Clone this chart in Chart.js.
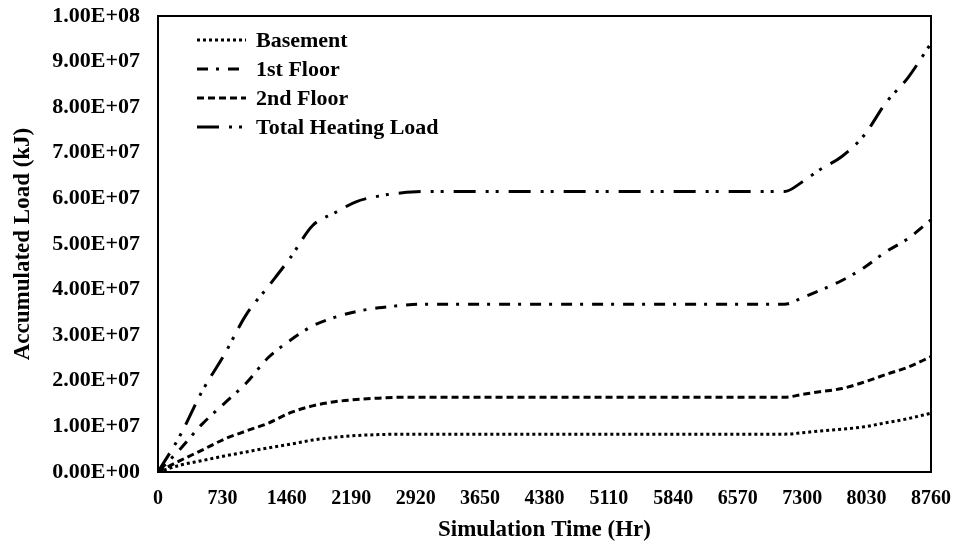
<!DOCTYPE html>
<html>
<head>
<meta charset="utf-8">
<script src="https://cdn.jsdelivr.net/npm/chart.js@4.4.1/dist/chart.umd.min.js"></script>
<style>
  body { margin: 0; background: #fff; }
</style>
</head>
<body>
<canvas id="loadChart" width="955" height="546"></canvas>
<script>
// simulation hours where values were read
var hours = [0, 250, 500, 750, 1000, 1250, 1500, 1750, 2000, 2250, 2500, 2750, 3000,
             7100, 7300, 7500, 7750, 8000, 8250, 8500, 8760];

// accumulated load in kJ
var basement = [0, 0.15e7, 0.25e7, 0.35e7, 0.44e7, 0.53e7, 0.61e7, 0.70e7, 0.76e7, 0.80e7, 0.82e7, 0.83e7, 0.83e7,
                0.83e7, 0.86e7, 0.90e7, 0.94e7, 0.99e7, 1.08e7, 1.17e7, 1.29e7];
var firstFloor = [0, 0.50e7, 1.05e7, 1.50e7, 1.95e7, 2.51e7, 2.89e7, 3.20e7, 3.39e7, 3.52e7, 3.60e7, 3.65e7, 3.68e7,
                  3.68e7, 3.82e7, 3.98e7, 4.20e7, 4.48e7, 4.83e7, 5.12e7, 5.53e7];
var secondFloor = [0, 0.25e7, 0.48e7, 0.72e7, 0.90e7, 1.07e7, 1.30e7, 1.45e7, 1.54e7, 1.59e7, 1.62e7, 1.64e7, 1.64e7,
                   1.64e7, 1.70e7, 1.76e7, 1.83e7, 1.97e7, 2.14e7, 2.30e7, 2.53e7];
var totalLoad = [0, 0.80e7, 1.77e7, 2.57e7, 3.45e7, 4.07e7, 4.70e7, 5.40e7, 5.68e7, 5.93e7, 6.05e7, 6.12e7, 6.15e7,
                 6.15e7, 6.36e7, 6.63e7, 6.92e7, 7.38e7, 8.10e7, 8.65e7, 9.40e7];

var seriesNames = ['Basement', '1st Floor', '2nd Floor', 'Total Heating Load'];
var xTicks = [0, 730, 1460, 2190, 2920, 3650, 4380, 5110, 5840, 6570, 7300, 8030, 8760];

var serif = '"Liberation Serif", "Times New Roman", serif';

function toPoints(vals) {
    return vals.map(function (v, i) { return { x: hours[i], y: v }; });
}

function sciLabel(v) {
    if (v === 0) return '0.00E+00';
    var e = Math.floor(Math.log10(Math.abs(v)) + 1e-9);
    var m = v / Math.pow(10, e);
    return m.toFixed(2) + 'E' + (e < 0 ? '-' : '+') + String(Math.abs(e)).padStart(2, '0');
}

function lineSet(label, vals, dash, width) {
    return {
        label: label,
        data: toPoints(vals),
        borderColor: '#000',
        backgroundColor: '#000',
        borderWidth: width,
        borderDash: dash,
        pointRadius: 0,
        fill: false,
        cubicInterpolationMode: 'monotone'
    };
}

// box around the plot area
var frame = {
    id: 'frame',
    afterDraw: function (chart) {
        var a = chart.chartArea, ctx = chart.ctx;
        ctx.save();
        ctx.strokeStyle = '#000';
        ctx.lineWidth = 2;
        ctx.setLineDash([]);
        ctx.strokeRect(a.left, a.top, a.right - a.left, a.bottom - a.top);
        ctx.restore();
    }
};

// legend drawn inside the plot, top left
var innerLegend = {
    id: 'innerLegend',
    afterDraw: function (chart) {
        var ctx = chart.ctx;
        ctx.save();
        ctx.font = 'bold 22px ' + serif;
        ctx.textBaseline = 'middle';
        ctx.fillStyle = '#000';
        chart.data.datasets.forEach(function (ds, i) {
            var y = 40 + i * 29;
            ctx.strokeStyle = '#000';
            ctx.lineWidth = ds.borderWidth;
            ctx.setLineDash(ds.borderDash);
            ctx.beginPath();
            ctx.moveTo(197, y);
            ctx.lineTo(246, y);
            ctx.stroke();
            ctx.fillText(ds.label, 256, y + 1);
        });
        ctx.restore();
    }
};

var ctx = document.getElementById('loadChart').getContext('2d');
var myChart = new Chart(ctx, {
    type: 'line',
    data: {
        datasets: [
            lineSet(seriesNames[0], basement, [3, 3], 3),
            lineSet(seriesNames[1], firstFloor, [11, 8, 3, 9], 3),
            lineSet(seriesNames[2], secondFloor, [7, 4], 3),
            lineSet(seriesNames[3], totalLoad, [22, 10, 3, 7, 3, 10], 3)
        ]
    },
    plugins: [frame, innerLegend],
    options: {
        responsive: false,
        animation: false,
        layout: { padding: { left: 0, right: 24, top: 16, bottom: 0 } },
        plugins: {
            legend: { display: false },
            tooltip: { enabled: false }
        },
        scales: {
            x: {
                type: 'linear',
                min: 0,
                max: 8760,
                afterFit: function (scale) {
                    scale.height = 74;
                    scale.paddingLeft = 0;
                    scale.paddingRight = 0;
                },
                afterBuildTicks: function (scale) {
                    scale.ticks = xTicks.map(function (v) { return { value: v }; });
                },
                grid: { display: false, drawTicks: false },
                border: { display: false },
                ticks: {
                    autoSkip: false,
                    maxRotation: 0,
                    padding: 15,
                    color: '#000',
                    font: { family: serif, size: 20, weight: 'bold' },
                    callback: function (v) { return String(v); }
                },
                title: {
                    display: true,
                    text: 'Simulation Time (Hr)',
                    color: '#000',
                    padding: { top: 0, bottom: 2 },
                    font: { family: serif, size: 23, weight: 'bold' }
                }
            },
            y: {
                min: 0,
                max: 1e8,
                afterFit: function (scale) {
                    scale.width = 158;
                    scale.paddingTop = 0;
                    scale.paddingBottom = 0;
                },
                grid: { display: false, drawTicks: false },
                border: { display: false },
                ticks: {
                    stepSize: 1e7,
                    padding: 18,
                    color: '#000',
                    font: { family: serif, size: 22, weight: 'bold' },
                    callback: function (v) { return sciLabel(v); }
                },
                title: {
                    display: true,
                    text: 'Accumulated Load (kJ)',
                    color: '#000',
                    padding: { top: 9, bottom: 0 },
                    font: { family: serif, size: 23, weight: 'bold' }
                }
            }
        }
    }
});
</script>
</body>
</html>
